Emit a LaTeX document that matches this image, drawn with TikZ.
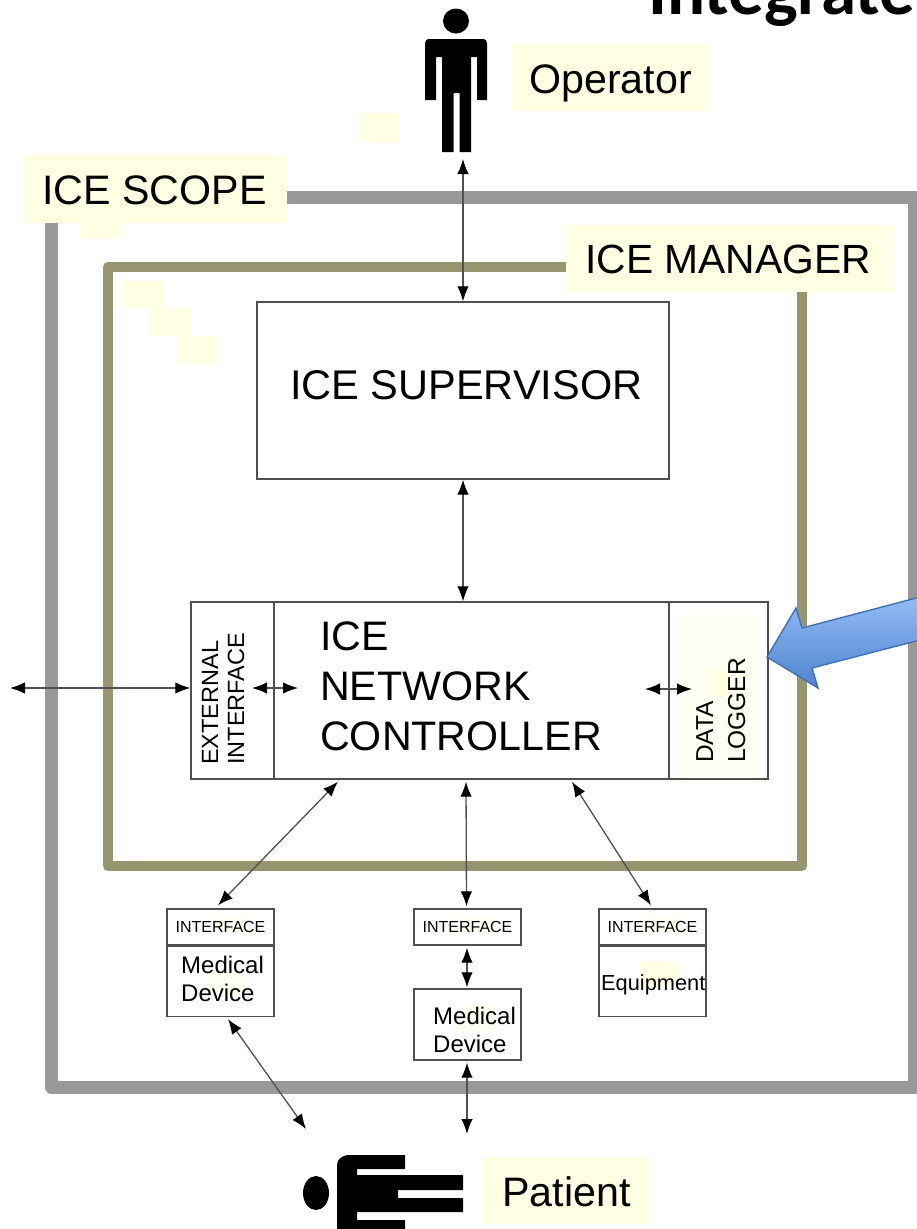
\documentclass[tikz,border=0pt]{standalone}
\usepackage{fontspec}
\setmainfont{Liberation Sans}
\newfontfamily\titlefont{Carlito}
\usetikzlibrary{arrows.meta,calc}
\newcommand\sz[1]{\fontsize{#1}{#1}\selectfont}
\definecolor{scopegrey}{HTML}{999999}
\definecolor{mgrolive}{HTML}{96956F}
\definecolor{labelbg}{HTML}{FFFFE3}
\definecolor{faintbg}{HTML}{FFFFF4}
\definecolor{boxline}{HTML}{505050}
\definecolor{arrowtop}{HTML}{94BBF6}
\definecolor{arrowbot}{HTML}{4E84CE}
\definecolor{arrowedge}{HTML}{3F72B5}
\tikzset{
  x=1pt,y=-1pt,
  patch/.style={fill=labelbg,draw=none},
  faint/.style={fill=faintbg,draw=none},
  frameline/.style={line width=13pt,color=scopegrey,line join=round},
  mgrline/.style={line width=10pt,color=mgrolive,line join=round},
  box/.style={draw=boxline,line width=1.4pt,fill=none,inner sep=0pt,text=black},
  flow/.style={draw=boxline,line width=1.3pt,{Latex[length=15pt,width=11.5pt,black]}-{Latex[length=15pt,width=11.5pt,black]}},
  lab/.style={anchor=base west,inner sep=0pt,text=black},
  big/.style={lab,font=\sz{41.2}},
  vert/.style={lab,rotate=90,font=\sz{23.5}},
  small/.style={inner sep=0pt,text=black,font=\sz{16}},
  dev/.style={lab,font=\sz{24}},
}
\begin{document}
\begin{tikzpicture}
\useasboundingbox (0,0) rectangle (917,1229);
\clip (0,0) rectangle (917,1229);
\fill[white] (0,0) rectangle (917,1229);
% pale patches
\fill[patch] (24,155) rectangle (287,223);
\fill[patch] (511,44) rectangle (710,111);
\fill[patch] (566,225) rectangle (894,292);
\fill[patch] (483,1157) rectangle (649,1224);
\fill[patch] (359,113) rectangle (400,142);
\fill[patch] (80,223) rectangle (121,238);
\fill[patch] (122,281) rectangle (163,308);
\fill[patch] (149,308) rectangle (191,336);
\fill[patch] (177,336) rectangle (218,364);
\fill[faint] (680,615) rectangle (760,782);
\fill[patch] (707,670) rectangle (730,697);
\fill[patch] (639,962) rectangle (680,987);
\fill[faint] (205,970) rectangle (247,997);
\fill[faint] (457,1005) rectangle (497,1032);
\fill[faint] (217,918) rectangle (247,933);
\fill[faint] (457,918) rectangle (497,933);
\fill[faint] (644,918) rectangle (682,933);
% title
\node[lab,font=\titlefont\bfseries\sz{71}] (title) at (648,14) {Integrate};
% frames
\coordinate (scA) at (287,197);
\coordinate (scB) at (914.5,197);
\coordinate (scC) at (914.5,1087.5);
\coordinate (scD) at (51.5,1087.5);
\coordinate (scE) at (51.5,223);
\draw[frameline] (scA) -- (scB) -- (scC) -- (scD) -- (scE);
\coordinate (mgA) at (566,267);
\coordinate (mgB) at (108,267);
\coordinate (mgC) at (108,866);
\coordinate (mgD) at (802,866);
\coordinate (mgE) at (802,292);
\draw[mgrline] (mgA) -- (mgB) -- (mgC) -- (mgD) -- (mgE);
% boxes
\node[box,minimum width=412pt,minimum height=177pt] (sup) at (463,390.5) {};
\node[lab,font=\sz{41.5}] (suptext) at (290,399) {ICE SUPERVISOR};
\node[box,minimum width=577pt,minimum height=177pt] (ctrl) at (479.5,690.5) {};
\draw[boxline,line width=1.4pt] ([xshift=-205.5pt]ctrl.north) -- ([xshift=-205.5pt]ctrl.south);
\draw[boxline,line width=1.4pt] ([xshift=189.5pt]ctrl.north) -- ([xshift=189.5pt]ctrl.south);
\node[big] (ct1) at (320,650) {ICE};
\node[big] (ct2) at (320,700) {NETWORK};
\node[big] (ct3) at (320,750) {CONTROLLER};
\node[vert] (ext1) at (218,765) {EXTERNAL};
\node[vert] (ext2) at (244,765) {INTERFACE};
\node[vert,font=\sz{24.5}] (dl1) at (713,763) {DATA};
\node[vert,font=\sz{24.5}] (dl2) at (745,763) {LOGGER};
% labels
\node[big] (scope) at (42,204) {ICE SCOPE};
\node[lab,font=\sz{40.8}] (mgr) at (585,273) {ICE MANAGER};
\node[big] (opl) at (529,93) {Operator};
\node[big] (pat) at (502,1206) {Patient};
% lower boxes
\node[box,minimum width=107pt,minimum height=36pt,small] (if1) at (220.5,927) {INTERFACE};
\node[box,minimum width=107pt,minimum height=70pt,anchor=north] (md1) at (if1.south) {};
\node[dev] (md1a) at (181,973) {Medical};
\node[dev] (md1b) at (181,1001) {Device};
\node[box,minimum width=107pt,minimum height=36pt,small] (if2) at (467.5,927) {INTERFACE};
\node[box,minimum width=107pt,minimum height=71pt] (md2) at (467.5,1024.5) {};
\node[dev] (md2a) at (433,1024) {Medical};
\node[dev] (md2b) at (433,1052) {Device};
\node[box,minimum width=107pt,minimum height=36pt,small] (if3) at (652.5,927) {INTERFACE};
\node[box,minimum width=107pt,minimum height=70pt,anchor=north] (eq) at (if3.south) {};
\node[lab,font=\sz{21.8}] (eqt) at (601,990) {Equipment};
% operator figure
\fill[black] (456,21) ellipse [x radius=13,y radius=12.5];
\fill[black] (425,100) -- (425,43) .. controls (425,40) and (427,39) .. (429,39) -- (483,39) .. controls (485,39) and (487,40) .. (487,43)
  -- (487,100) -- (477,100) -- (477,57) -- (471,57)
  -- (471,152) -- (459.5,152) -- (459.5,93) -- (453.5,93) -- (453.5,152) -- (442,152) -- (442,57) -- (436,57) -- (436,100) -- cycle;
\coordinate (opfoot) at (463,159);
% patient figure
\fill[black] (316,1193) ellipse [x radius=13,y radius=17];
\fill[black] (350,1155) -- (405,1155) -- (405,1169) -- (357,1169) -- (357,1175) -- (463,1175) -- (463,1190) -- (398,1190)
  -- (398,1198) -- (463,1198) -- (463,1212) -- (357,1212) -- (357,1220) -- (405,1220) -- (405,1232) -- (337,1232) -- (337,1165)
  .. controls (337,1159) and (342,1155) .. (350,1155) -- cycle;
\coordinate (pta) at (306,1129);
\coordinate (ptb) at (467,1134);
\coordinate (extfar) at (10,688);
% connectors
\draw[flow] (opfoot) -- (sup.north);
\draw[flow] (sup.south) -- (sup.south |- ctrl.north);
\draw[flow] (extfar) -- (extfar -| ctrl.west);
\draw[flow] ($(ctrl.center)+(-227.5,-2.5)$) -- ($(ctrl.center)+(-181.5,-2.5)$);
\draw[flow] ($(ctrl.center)+(165.5,-1.5)$) -- ($(ctrl.center)+(212.5,-1.5)$);
\draw[flow] ($(ctrl.south)+(-141.5,2)$) -- ($(if1.north)+(-2.5,-3)$);
\draw[flow] ($(ctrl.south)+(-13.5,2)$) -- ($(if2.north)+(-1,-2)$);
\draw[flow] ($(ctrl.south)+(92.5,2)$) -- ($(if3.north)+(-1.5,-3)$);
\draw[flow] ($(if2.south)+(-0.5,2)$) -- ($(md2.north)+(-0.5,-1)$);
\draw[flow] ($(md1.south)+(7.5,2)$) -- (pta);
\draw[flow] ($(md2.south)+(-0.5,2)$) -- (ptb);
% blue callout arrow
\shade[top color=arrowtop,bottom color=arrowbot,draw=arrowedge,line width=1.4pt]
  (767,657) -- (796,608) -- (802,628) -- (920,597) -- (920,640) -- (812,668) -- (818,688) -- cycle;
\end{tikzpicture}
\end{document}
